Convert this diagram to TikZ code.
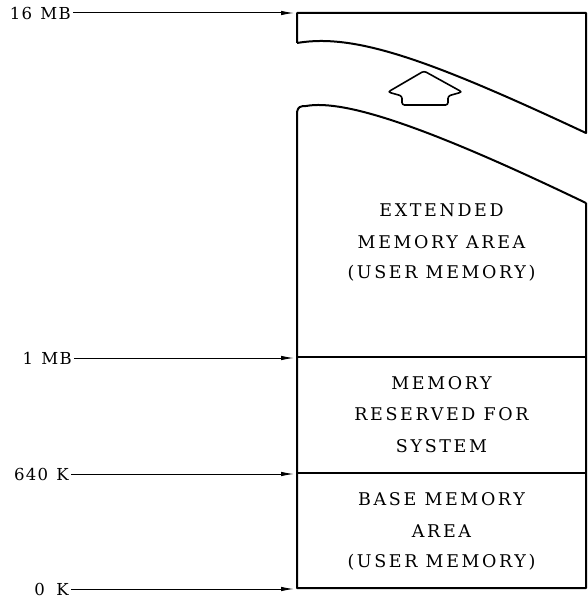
\documentclass[tikz,border=0pt]{standalone}
\usepackage{fontspec}
\setmainfont{DejaVu Serif}
\newfontfamily\boxfont{DejaVu Serif}[LetterSpace=15]
\newfontfamily\labfont{DejaVu Serif}[LetterSpace=8]
\usetikzlibrary{arrows.meta}
\begin{document}
\begin{tikzpicture}[x=1pt,y=-1pt,
  outline/.style={line width=2pt,line join=round},
  boxtext/.style={font=\boxfont\fontsize{17.5}{20}\selectfont,anchor=base,inner sep=0pt},
  addr/.style={font=\labfont\fontsize{16.5}{18}\selectfont,anchor=east,inner sep=2pt},
  pointer/.style={line width=1pt,-{Latex[length=13pt,width=4.5pt]}}]
\useasboundingbox (0,0) rectangle (587,601);
% box outline
\coordinate (tl) at (297,13);
\coordinate (tr) at (586,13);
\coordinate (mb) at (297,357);
\coordinate (kb) at (297,473);
\coordinate (bl) at (297,588);
\coordinate (br) at (586,588);
\draw[outline] (297,43) -- (tl) -- (tr) -- (586,133)
  .. controls (430,60) and (355,33) .. (297,43);
\draw[outline] (586,203) -- (br) -- (bl) -- (297,112)
  .. controls (298,107) and (300,106) .. (306,106)
  .. controls (345,99) and (430,128) .. (586,203);
\draw[outline] (mb) -- (586,357);
\draw[outline] (kb) -- (586,473);
% hollow arrow
\draw[line width=1.6pt,rounded corners=2.5pt]
  (424,71) -- (462,92) -- (448,96) -- (448,105) -- (402,105) -- (402,96) -- (388,92) -- cycle;
% texts
\node[boxtext] (e1) at (441.5,217) {EXTENDED};
\node[boxtext] (e2) at (441.5,248) {MEMORY AREA};
\node[boxtext] (e3) at (441.5,278) {(USER MEMORY)};
\node[boxtext] (r1) at (441.5,389) {MEMORY};
\node[boxtext] (r2) at (441.5,420) {RESERVED FOR};
\node[boxtext] (r3) at (441.5,452) {SYSTEM};
\node[boxtext] (b1) at (441.5,505) {BASE MEMORY};
\node[boxtext] (b2) at (441.5,537) {AREA};
\node[boxtext] (b3) at (441.5,567) {(USER MEMORY)};
% address labels
\node[addr] (a16) at (73,13) {16\hspace{0.5em}MB};
\node[addr] (a1) at (74,358) {1\hspace{0.5em}MB};
\node[addr] (a640) at (71,474) {640\hspace{0.5em}K};
\node[addr] (a0) at (71,589) {0\hspace{0.7em}K};
\coordinate (p16) at (294,13);
\coordinate (p1) at (294,358);
\coordinate (p640) at (294,474);
\coordinate (p0) at (294,589);
\draw[pointer] (a16.east) -- (p16);
\draw[pointer] (a1.east) -- (p1);
\draw[pointer] (a640.east) -- (p640);
\draw[pointer] (a0.east) -- (p0);
\end{tikzpicture}
\end{document}
